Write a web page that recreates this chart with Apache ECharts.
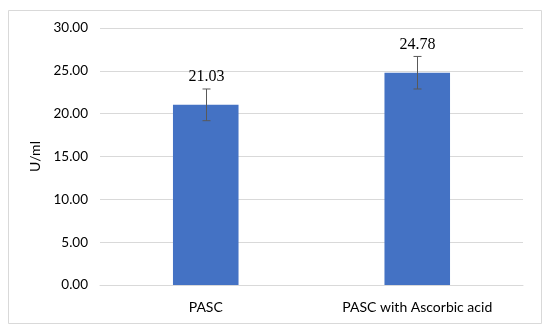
<!DOCTYPE html>
<html>
<head>
<meta charset="utf-8">
<script src="https://cdn.jsdelivr.net/npm/echarts@6/dist/echarts.min.js"></script>
<style>
html,body{margin:0;padding:0;background:#fff;}
#chart{width:550px;height:334px;}
</style>
</head>
<body>
<div id="chart"></div>
<script>
var categories = ["PASC", "PASC with Ascorbic acid"];
var values = [21.03, 24.78];
var errors = [1.85, 1.9];
var yAxisName = "U/ml";

var chart = echarts.init(document.getElementById('chart'), null, {renderer: 'canvas'});
var errData = values.map(function (v, i) { return [i, v, errors[i]]; });

var option = {
  animation: false,
  backgroundColor: '#ffffff',
  graphic: [{
    type: 'rect',
    shape: {x: 8.5, y: 10.5, width: 533, height: 313},
    style: {fill: 'none', stroke: '#d9d9d9', lineWidth: 1},
    silent: true,
    z: -1
  }],
  grid: {left: 100, right: 27, top: 28, bottom: 49},
  xAxis: {
    type: 'category',
    data: categories,
    axisLine: {show: true, lineStyle: {color: '#d9d9d9', width: 1}},
    axisTick: {show: false},
    axisLabel: {color: '#000', fontFamily: 'Lato', fontSize: 14, margin: 15}
  },
  yAxis: {
    type: 'value',
    min: 0, max: 30, interval: 5,
    name: yAxisName,
    nameLocation: 'middle',
    nameGap: 53,
    nameTextStyle: {color: '#000', fontFamily: 'Lato', fontSize: 14},
    axisLine: {show: false},
    axisTick: {show: false},
    splitLine: {lineStyle: {color: '#d9d9d9', width: 1}},
    axisLabel: {
      color: '#000', fontFamily: 'Lato', fontSize: 13.5, margin: 12,
      formatter: function (v) { return v.toFixed(2); }
    }
  },
  series: [{
    type: 'bar',
    data: values,
    barWidth: '31%',
    itemStyle: {color: '#4472C4'}
  }, {
    type: 'custom',
    data: errData,
    z: 10,
    renderItem: function (params, api) {
      var x = api.value(0), v = api.value(1), e = api.value(2);
      var top = api.coord([x, v + e]);
      var bot = api.coord([x, v - e]);
      var cx = Math.round(top[0]) + 0.5;
      var cap = 4;
      var st = {stroke: '#595959', lineWidth: 1};
      return {
        type: 'group',
        children: [
          {type: 'line', shape: {x1: cx, y1: top[1], x2: cx, y2: bot[1]}, style: st},
          {type: 'line', shape: {x1: cx - cap, y1: top[1], x2: cx + cap, y2: top[1]}, style: st},
          {type: 'line', shape: {x1: cx - cap, y1: bot[1], x2: cx + cap, y2: bot[1]}, style: st},
          {type: 'text', style: {
            text: v.toFixed(2), x: cx, y: top[1] - 4,
            textAlign: 'center', textVerticalAlign: 'bottom',
            fontFamily: 'Liberation Serif', fontSize: 16, fill: '#000'
          }}
        ]
      };
    }
  }]
};
chart.setOption(option);
</script>
</body>
</html>
